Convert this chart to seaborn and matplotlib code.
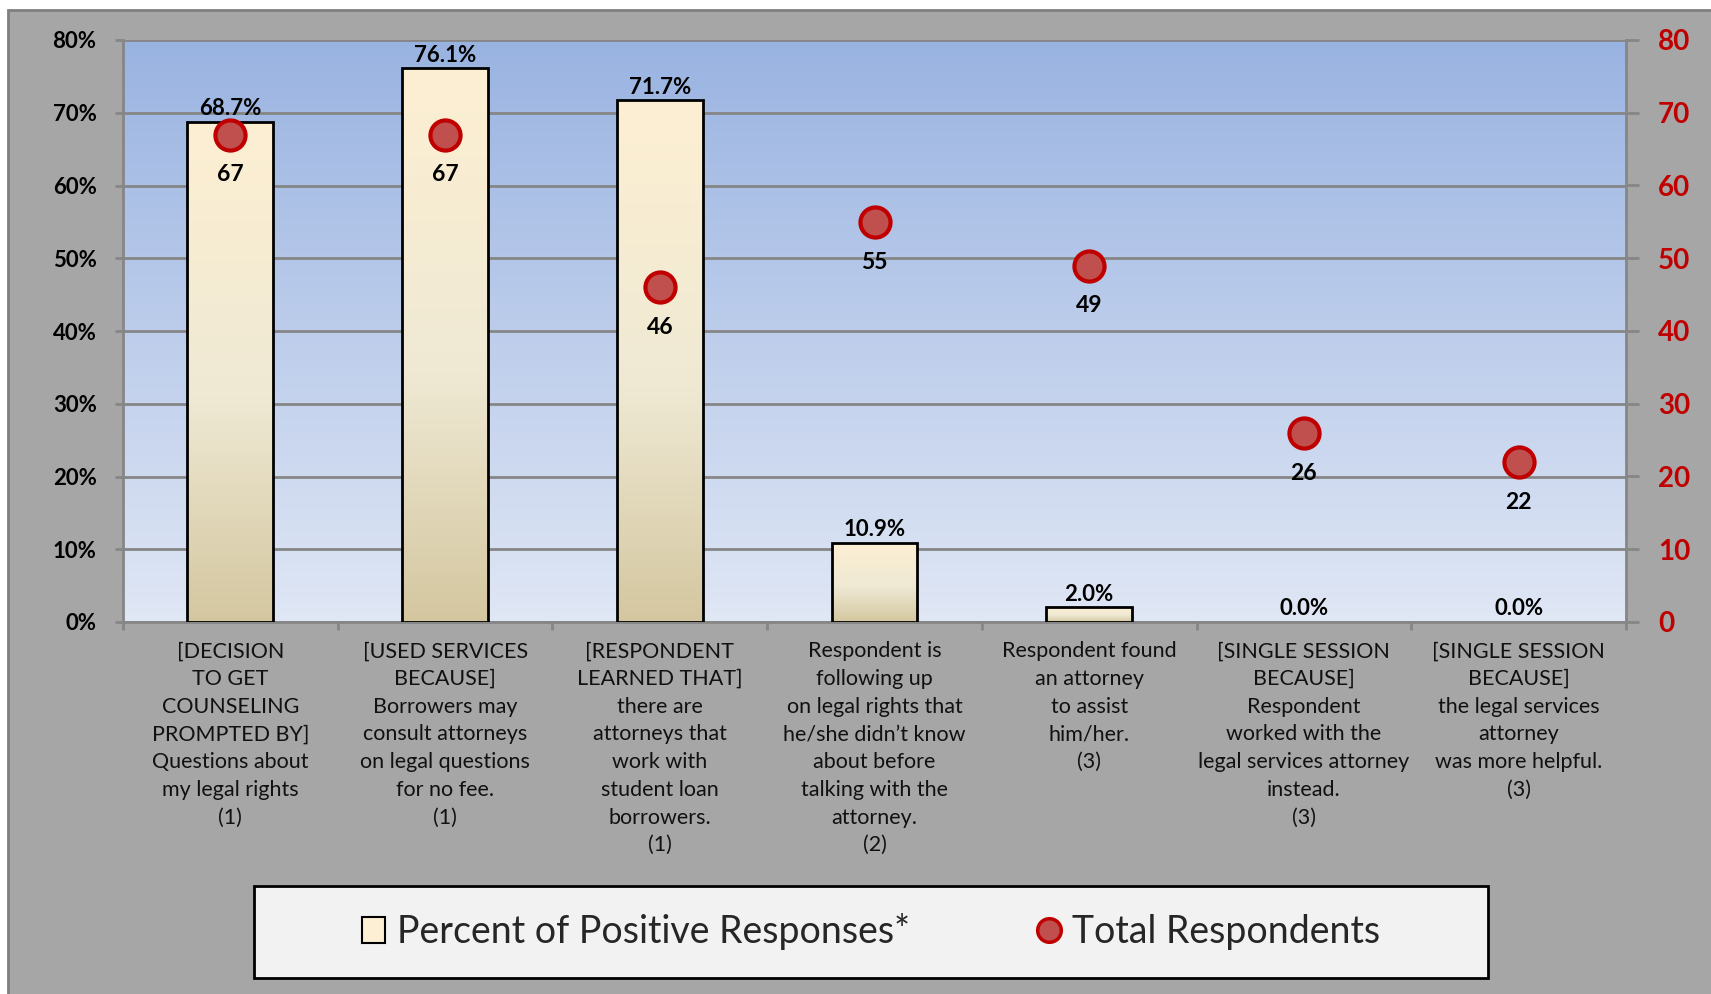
import numpy as np
import pandas as pd
import matplotlib
matplotlib.use("Agg")
import matplotlib.pyplot as plt
import seaborn as sns
from matplotlib.colors import LinearSegmentedColormap
from matplotlib.patches import Rectangle, Patch
from matplotlib.lines import Line2D

# ---- data -------------------------------------------------------------
categories = [
    "[DECISION\nTO GET\nCOUNSELING\nPROMPTED BY]\nQuestions about\nmy legal rights\n(1)",
    "[USED SERVICES\nBECAUSE]\nBorrowers may\nconsult attorneys\non legal questions\nfor no fee.\n(1)",
    "[RESPONDENT\nLEARNED THAT]\nthere are\nattorneys that\nwork with\nstudent loan\nborrowers.\n(1)",
    "Respondent is\nfollowing up\non legal rights that\nhe/she didn\u2019t know\nabout before\ntalking with the\nattorney.\n(2)",
    "Respondent found\nan attorney\nto assist\nhim/her.\n(3)",
    "[SINGLE SESSION\nBECAUSE]\nRespondent\nworked with the\nlegal services attorney\ninstead.\n(3)",
    "[SINGLE SESSION\nBECAUSE]\nthe legal services\nattorney\nwas more helpful.\n(3)",
]
percent_positive = [68.7, 76.1, 71.7, 10.9, 2.0, 0.0, 0.0]
total_respondents = [67, 67, 46, 55, 49, 26, 22]
left_ticks = [0, 10, 20, 30, 40, 50, 60, 70, 80]
right_ticks = [0, 10, 20, 30, 40, 50, 60, 70, 80]

series_bar = "Percent of Positive Responses*"
series_dot = "Total Respondents"

df = pd.DataFrame({
    "category": categories,
    "percent": percent_positive,
    "respondents": total_respondents,
})

# ---- style ------------------------------------------------------------
sns.set_theme(style="white")
plt.rcParams["font.family"] = ["Lato", "DejaVu Sans"]

W, H = 1711, 994
fig = plt.figure(figsize=(W / 100, H / 100), dpi=100)
fig.patch.set_facecolor("white")

# gray chart panel
fig.patches.append(Rectangle((8 / W, -0.02), 1.0, 1.02 - 10 / H,
                             transform=fig.transFigure, facecolor="#a6a6a6",
                             edgecolor="#7f7f7f", linewidth=2, zorder=-5))

ax = fig.add_axes([123 / W, 1 - 622 / H, (1626 - 123) / W, (622 - 40) / H])
ax.set_facecolor("none")

# plot-area vertical gradient
bg_cmap = LinearSegmentedColormap.from_list("bg", ["#e0e7f5", "#99b3e1"])
grad = np.linspace(0, 1, 256).reshape(-1, 1)
ax.imshow(grad, extent=(0, 1, 0, 1), transform=ax.transAxes, origin="lower",
          cmap=bg_cmap, aspect="auto", zorder=-10)

# bars
sns.barplot(data=df, x="category", y="percent", ax=ax, width=0.4,
            color="#fdefd2", edgecolor="black", linewidth=2, saturation=1,
            zorder=3)

bar_cmap = LinearSegmentedColormap.from_list(
    "bar", [(0.0, "#d4c7a0"), (0.45, "#efe9d4"), (1.0, "#fdefd2")])
for p in list(ax.patches):
    h = p.get_height()
    if h <= 0:
        p.set_linewidth(0)
        p.set_facecolor("none")
        continue
    x0 = p.get_x()
    im = ax.imshow(grad, extent=(x0, x0 + p.get_width(), 0, h), origin="lower",
                   cmap=bar_cmap, aspect="auto", zorder=2.9)
    im.set_clip_path(p)
    p.set_facecolor("none")

ax.set_xlim(-0.5, len(categories) - 0.5)
ax.set_ylim(0, 80)
ax.set_xlabel("")
ax.set_ylabel("")

# value labels above bars
for i, v in enumerate(percent_positive):
    ax.annotate(f"{v:.1f}%", (i, v), xytext=(0, 2), textcoords="offset points",
                ha="center", va="bottom", fontsize=16, fontweight="bold",
                color="black", zorder=6)

# grid & spines
ax.set_yticks(left_ticks)
ax.set_yticklabels([f"{t}%" for t in left_ticks])
ax.yaxis.grid(True, color="#868686", linewidth=2, zorder=1)
ax.set_axisbelow(True)
for s in ["top", "right"]:
    ax.spines[s].set_visible(False)
for s in ["left", "bottom"]:
    ax.spines[s].set_color("#868686")
    ax.spines[s].set_linewidth(2)
ax.tick_params(axis="y", which="major", direction="out", length=6, width=2,
               color="#868686", pad=13, labelsize=16, labelcolor="black", left=True)
for t in ax.get_yticklabels():
    t.set_fontweight("bold")

ax.set_xticks(range(len(categories)))
ax.set_xticklabels(categories, fontsize=15.5, linespacing=1.48, color="#111111")
ax.set_xticks(np.arange(-0.5, len(categories), 1.0), minor=True)
ax.tick_params(axis="x", which="major", length=0, pad=14)
ax.tick_params(axis="x", which="minor", direction="out", length=6, width=2,
               color="#868686", bottom=True)

# secondary axis with respondent counts
ax2 = ax.twinx()
ax2.set_ylim(0, 80)
sns.scatterplot(data=df, x="category", y="respondents", ax=ax2, s=470,
                color="#c0504d", edgecolor="#c00000", linewidth=3, zorder=5,
                legend=False)
ax2.set_xlim(-0.5, len(categories) - 0.5)
ax2.set_ylabel("")
ax2.set_xlabel("")
ax2.set_yticks(right_ticks)
ax2.set_yticklabels([str(t) for t in right_ticks])
for s in ["top", "left", "bottom"]:
    ax2.spines[s].set_visible(False)
ax2.spines["right"].set_color("#868686")
ax2.spines["right"].set_linewidth(2)
ax2.tick_params(axis="y", direction="out", length=9, width=2, color="#868686",
                pad=14, labelsize=20, labelcolor="#c00000", right=True)
for t in ax2.get_yticklabels():
    t.set_fontweight("bold")

for i, v in enumerate(total_respondents):
    ax2.annotate(f"{v}", (i, v), xytext=(0, -29), textcoords="offset points",
                 ha="center", va="center", fontsize=16.5, fontweight="bold",
                 color="black", zorder=6)

# legend box
lx0, lx1, ly0, ly1 = 254, 1488, 886, 978
fig.patches.append(Rectangle((lx0 / W, 1 - ly1 / H), (lx1 - lx0) / W,
                             (ly1 - ly0) / H, transform=fig.transFigure,
                             facecolor="#f2f2f2", edgecolor="black",
                             linewidth=2, zorder=1))
handles = [
    Patch(facecolor="#fcefd3", edgecolor="black", linewidth=1.5, label=series_bar),
    Line2D([], [], linestyle="none", marker="o", markersize=17,
           markerfacecolor="#c0504d", markeredgecolor="#c00000",
           markeredgewidth=2.5, label=series_dot),
]
fig.legend(handles=handles, loc="center",
           bbox_to_anchor=((lx0 + lx1) / 2 / W, 1 - (ly0 + ly1) / 2 / H),
           ncol=2, frameon=False, fontsize=27, handlelength=0.62,
           handleheight=0.68, handletextpad=0.3, columnspacing=3.4)

fig.savefig("out.png", dpi=100)
